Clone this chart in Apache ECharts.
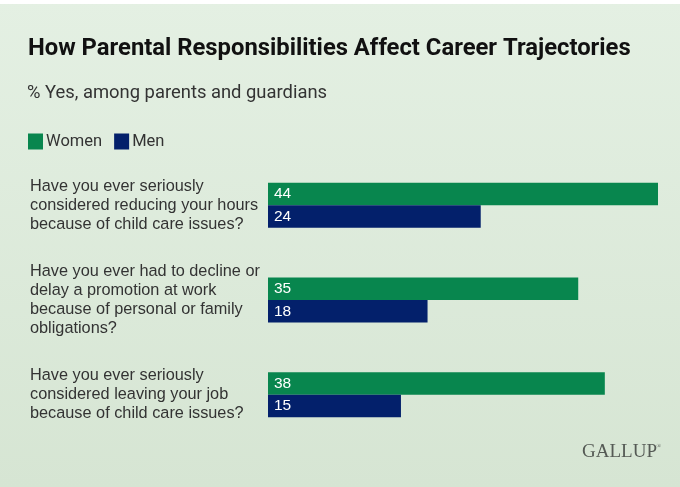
<!DOCTYPE html>
<html>
<head>
<meta charset="utf-8">
<script src="https://cdn.jsdelivr.net/npm/echarts@6/dist/echarts.min.js"></script>
<style>
html,body{margin:0;padding:0;background:#fff;}
#chart{width:680px;height:487px;}
</style>
</head>
<body>
<div id="chart"></div>
<script>
const categories = [
  'Have you ever seriously\nconsidered reducing your hours\nbecause of child care issues?',
  'Have you ever had to decline or\ndelay a promotion at work\nbecause of personal or family\nobligations?',
  'Have you ever seriously\nconsidered leaving your job\nbecause of child care issues?'
];
const seriesNames = ['Women', 'Men'];
const women = [44, 35, 38];
const men = [24, 18, 15];

const chart = echarts.init(document.getElementById('chart'), null, {renderer: 'canvas'});
const textColor = '#333333';
const option = {
  backgroundColor: 'transparent',
  animation: false,
  title: [
    {
      text: 'How Parental Responsibilities Affect Career Trajectories',
      left: 28, top: 37, padding: 0,
      textStyle: {fontFamily: 'Roboto', fontWeight: 'bold', fontSize: 23.8, color: '#111111'}
    },
    {
      text: '% Yes, among parents and guardians',
      left: 27, top: 84, padding: 0,
      textStyle: {fontFamily: 'Roboto', fontWeight: 'normal', fontSize: 18.4, color: textColor}
    }
  ],
  legend: {
    left: 28, top: 133, padding: 0,
    icon: 'rect',
    itemWidth: 15, itemHeight: 16, itemGap: 12,
    textStyle: {fontFamily: 'Roboto', fontSize: 16.5, color: textColor, padding: [0,0,0,-2]},
    data: seriesNames
  },
  grid: {left: 268, right: 22, top: 158, bottom: 45, containLabel: false},
  xAxis: {type: 'value', min: 0, max: 44, show: false},
  yAxis: {
    type: 'category', inverse: true, data: categories,
    axisLine: {show: false}, axisTick: {show: false}, splitLine: {show: false},
    axisLabel: {
      align: 'left', margin: 238,
      fontFamily: 'Liberation Sans', fontSize: 16.3, lineHeight: 19, color: textColor
    }
  },
  series: [
    {
      name: seriesNames[0], type: 'bar', data: women,
      barWidth: 22.5, barGap: '0%',
      itemStyle: {color: '#08864e'},
      label: {show: true, position: 'insideLeft', distance: 6, color: '#ffffff', fontFamily: 'Liberation Sans', fontSize: 15.5}
    },
    {
      name: seriesNames[1], type: 'bar', data: men,
      barWidth: 22.5, barGap: '0%',
      itemStyle: {color: '#03206b'},
      label: {show: true, position: 'insideLeft', distance: 6, color: '#ffffff', fontFamily: 'Liberation Sans', fontSize: 15.5}
    }
  ],
  graphic: [
    {
      type: 'rect', z: -10, silent: true,
      shape: {x: 0, y: 0, width: 680, height: 487},
      style: {fill: new echarts.graphic.LinearGradient(0, 0, 0, 1, [
        {offset: 0, color: '#e4f0e3'},
        {offset: 1, color: '#d6e5d3'}
      ])}
    },
    {
      type: 'rect', z: -9, silent: true,
      shape: {x: 0, y: 0, width: 680, height: 4},
      style: {fill: '#ffffff'}
    },
    {
      type: 'text', right: 23, top: 443, silent: true,
      style: {text: 'GALLUP', font: '19px "Liberation Serif"', fill: '#555a55'}
    },
    {
      type: 'text', right: 19, top: 443, silent: true,
      style: {text: '®', font: '6px "Liberation Serif"', fill: '#555a55'}
    }
  ]
};
chart.setOption(option);
</script>
</body>
</html>
